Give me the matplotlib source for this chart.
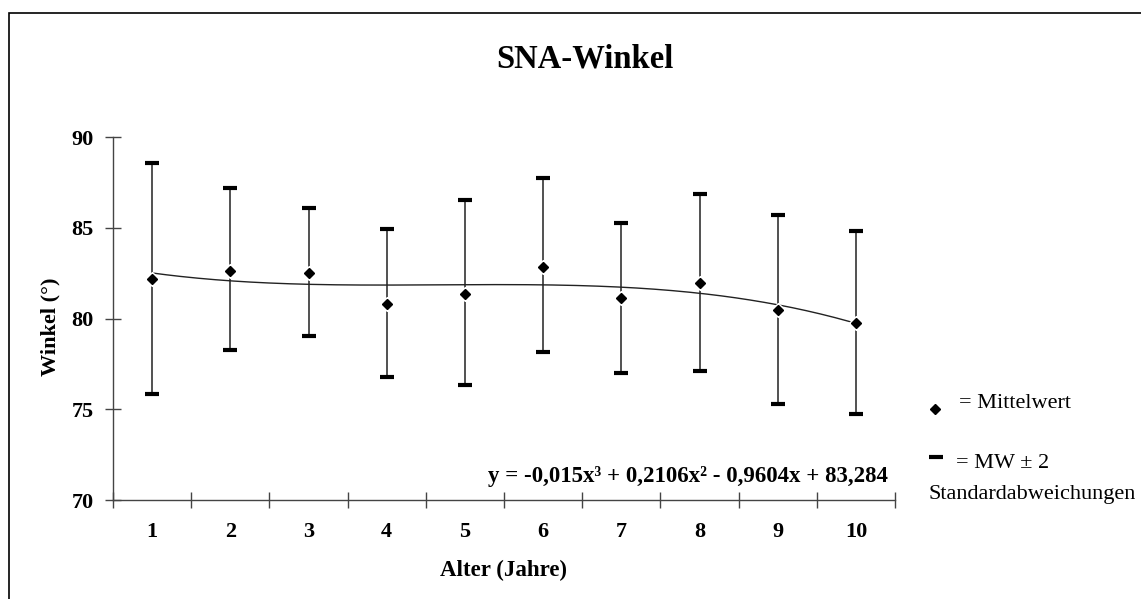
import matplotlib.pyplot as plt
import numpy as np
from matplotlib.patches import Rectangle

plt.rcParams['font.family'] = ['Liberation Serif', 'DejaVu Serif']

# Alter in Jahren, Mittelwert und MW +/- 2 SD
alter = [1, 2, 3, 4, 5, 6, 7, 8, 9, 10]
mittelwert = [82.17, 82.60, 82.52, 80.81, 81.38, 82.87, 81.14, 81.95, 80.46, 79.78]
obere = [88.57, 87.20, 86.08, 84.96, 86.53, 87.77, 85.28, 86.87, 85.74, 84.85]
untere = [75.87, 78.25, 79.06, 76.77, 76.32, 78.14, 77.00, 77.13, 75.30, 74.75]

# Trendlinie (Polynom 3. Grades)
koeff = [-0.015, 0.2106, -0.9604, 83.284]
gleichung = "y = -0,015x³ + 0,2106x² - 0,9604x + 83,284"

W, H = 1141, 599
fig = plt.figure(figsize=(W / 100, H / 100), dpi=100)
ax = fig.add_axes([113 / W, 1 - 500 / H, (895 - 113) / W, (500 - 137.3) / H])

# Rahmen um das Diagramm
fig.patches.append(Rectangle((9 / W, -0.1), 1.2, 1.1 - 13 / H, transform=fig.transFigure,
                             fill=False, lw=1.2, ec='black'))

ax.vlines(alter, untere, obere, colors='#222222', lw=1.1, zorder=2)
ax.plot(alter, obere, ls='none', marker='_', ms=9.5, mew=3, color='black', zorder=3)
ax.plot(alter, untere, ls='none', marker='_', ms=9.5, mew=3, color='black', zorder=3)

xs = np.linspace(1, 10, 200)
ax.plot(xs, np.polyval(koeff, xs), color='#222222', lw=1.0, zorder=4)

ax.plot(alter, mittelwert, ls='none', marker='D', ms=7.5, color='white', mec='white', zorder=5)
ax.plot(alter, mittelwert, ls='none', marker='D', ms=4.6, color='black', mec='black', zorder=6)

ax.set_xlim(0.5, 10.5)
ax.set_ylim(70, 90)
ax.set_yticks([70, 75, 80, 85, 90])
ax.set_xticks(alter)
ax.set_xticks(np.arange(0.5, 11, 1), minor=True)
ax.tick_params(axis='x', which='major', length=0, pad=16, labelsize=16)
ax.tick_params(axis='x', which='minor', direction='inout', length=12, width=1, color='#444444')
ax.tick_params(axis='y', direction='inout', length=12, width=1, color='#444444', pad=8, labelsize=16)
for lab in ax.get_xticklabels() + ax.get_yticklabels():
    lab.set_fontweight('bold')

for s in ['top', 'right']:
    ax.spines[s].set_visible(False)
for s in ['left', 'bottom']:
    ax.spines[s].set_color('#444444')
    ax.spines[s].set_linewidth(1)

fig.text(504 / W, 1 - 570 / H, 'Alter (Jahre)', ha='center', va='center', fontsize=16.5, fontweight='bold')
fig.text(50 / W, 1 - 327 / H, 'Winkel (°)', ha='center', va='center', rotation=90,
         fontsize=16, fontweight='bold')
fig.text(585 / W, 1 - 67 / H, 'SNA-Winkel', ha='center', va='baseline', fontsize=23.5, fontweight='bold')

ax.text(10.41, 71.0, gleichung, ha='right', va='baseline', fontsize=16.5, fontweight='bold')

# Legende rechts
fig.lines.append(plt.Line2D([935 / W], [1 - 409 / H], marker='D', ms=4.6, color='black',
                            ls='none', transform=fig.transFigure))
fig.text(959 / W, 1 - 404 / H, '= Mittelwert', ha='left', va='center', fontsize=16)
fig.lines.append(plt.Line2D([936 / W], [1 - 457 / H], marker='_', ms=9.5, mew=3, color='black',
                            ls='none', transform=fig.transFigure))
fig.text(956 / W, 1 - 463 / H, '= MW ± 2', ha='left', va='center', fontsize=16)
fig.text(929 / W, 1 - 494 / H, 'Standardabweichungen', ha='left', va='center', fontsize=16)

fig.savefig('out.png', dpi=100)
